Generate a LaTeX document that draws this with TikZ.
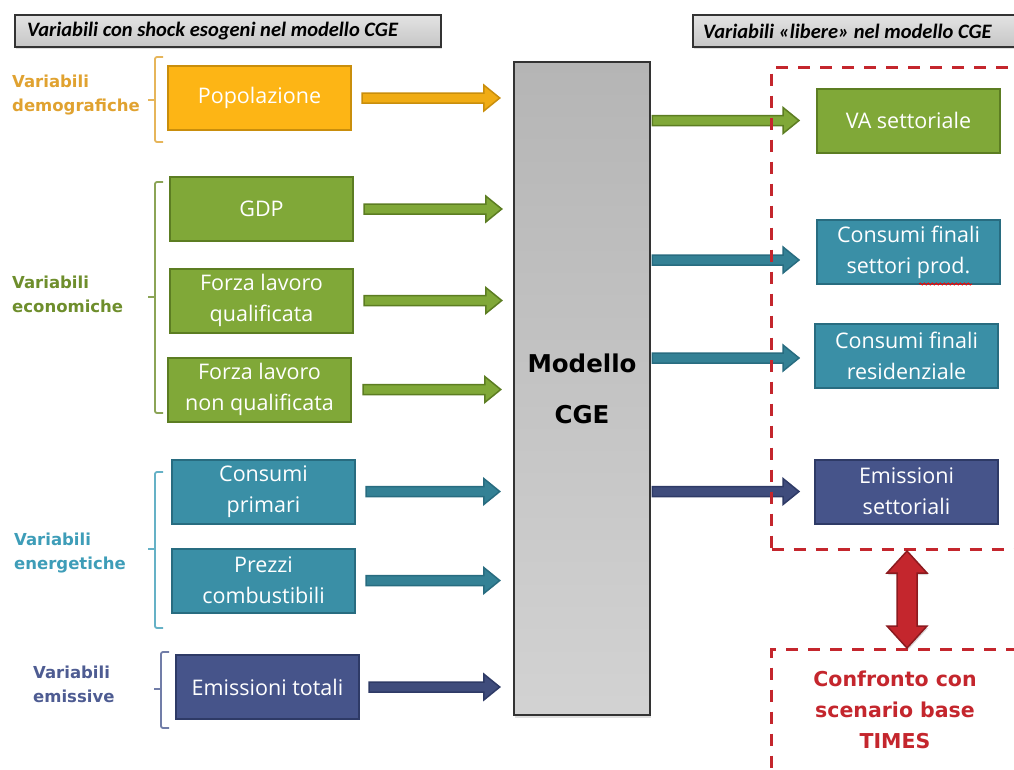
\documentclass[tikz,border=0pt]{standalone}
\usepackage{fontspec}
\setmainfont{Open Sans}
\newfontfamily\headfont{Carlito}
\newfontfamily\wideboldfont{DejaVu Sans}
\usetikzlibrary{calc,shadows,decorations.pathmorphing}

\definecolor{demofill}{HTML}{FDB515}
\definecolor{demoline}{HTML}{C98E0C}
\definecolor{demotext}{HTML}{E0A230}
\definecolor{econfill}{HTML}{80A838}
\definecolor{econline}{HTML}{5C7D22}
\definecolor{econtext}{HTML}{6E8E2C}
\definecolor{enerfill}{HTML}{3A8FA6}
\definecolor{enerline}{HTML}{286C80}
\definecolor{enertext}{HTML}{3E9DB8}
\definecolor{emisfill}{HTML}{46548A}
\definecolor{emisline}{HTML}{2E3A66}
\definecolor{emistext}{HTML}{4E5C92}
\definecolor{cmpred}{HTML}{C4262D}
\definecolor{cmpdark}{HTML}{8C1A1F}

\tikzset{
  varbox/.style={rectangle, minimum width=183pt, minimum height=64pt,
    line width=2pt, text=white, align=center, inner sep=0pt,
    font=\fontsize{21.5}{31}\selectfont},
  demobox/.style={varbox, fill=demofill, draw=demoline},
  econbox/.style={varbox, fill=econfill, draw=econline},
  enerbox/.style={varbox, fill=enerfill, draw=enerline},
  emisbox/.style={varbox, fill=emisfill, draw=emisline},
  grouplabel/.style={anchor=west, align=left, inner sep=0pt,
    font=\wideboldfont\bfseries\fontsize{16.5}{24}\selectfont},
  headbox/.style={rectangle, draw=black!80, line width=1.5pt,
    top color=gray!22, bottom color=gray!45, minimum height=32pt,
    inner sep=0pt, drop shadow={opacity=0.25, shadow xshift=1pt, shadow yshift=-2pt}},
  headtext/.style={anchor=west, inner sep=0pt,
    font=\headfont\bfseries\itshape\fontsize{20.5}{24}\selectfont},
  redframe/.style={rectangle, draw=cmpred, line width=3pt,
    dash pattern=on 12pt off 10pt},
}

% horizontal block arrow: fill, border, start, end
\newcommand{\fatarrow}[4]{%
  \draw[line width=1.5pt, draw=#2, fill=#1, line join=miter]
    let \p1=(#3), \p2=(#4) in
    (\x1,\y1+5) -- (\x2-16,\y1+5) -- (\x2-16,\y1+13) -- (\x2,\y1)
    -- (\x2-16,\y1-13) -- (\x2-16,\y1-5) -- (\x1,\y1-5) -- cycle;}

% vertical block arrow with two heads
\newcommand{\dblarrow}[2]{%
  \draw[line width=1.5pt, draw=cmpdark, fill=cmpred, line join=miter,
        drop shadow={opacity=0.3, shadow xshift=1pt, shadow yshift=-2pt}]
    let \p1=(#1), \p2=(#2) in
    (\x1,\y1) -- (\x1+20,\y1-22) -- (\x1+10,\y1-22) -- (\x1+10,\y2+22)
    -- (\x1+20,\y2+22) -- (\x1,\y2) -- (\x1-20,\y2+22) -- (\x1-10,\y2+22)
    -- (\x1-10,\y1-22) -- (\x1-20,\y1-22) -- cycle;}

% square bracket with a tick: colour, x, top, middle, bottom
\newcommand{\sidebrace}[5]{%
  \draw[#1, line width=1.8pt, rounded corners=2pt]
    (#2+8,#3) -- (#2,#3) -- (#2,#5) -- (#2+8,#5);
  \draw[#1, line width=1.8pt] (#2,#4) -- (#2-7,#4);}

\begin{document}
\begin{tikzpicture}[x=1pt, y=-1pt]
\useasboundingbox (0,0) rectangle (1014,769);
\clip (0,0) rectangle (1014,769);

% A. Headers
\node[headbox, minimum width=426pt, anchor=west] (hleft) at (14,31) {};
\node[headtext] (hlefttxt) at (27,31) {Variabili con shock esogeni nel modello CGE};
\node[headbox, minimum width=340pt, anchor=west] (hright) at (692,31) {};
\node[headtext] (hrighttxt) at (703,31) {Variabili «libere» nel modello CGE};

% B. Exogenous variables
\node[demobox] (pop)  at (259.5,98)   {Popolazione};
\node[econbox] (gdp)  at (261.5,209)  {GDP};
\node[econbox] (flq)  at (261.5,300.5) {Forza lavoro\\qualificata};
\node[econbox] (flnq) at (259.5,389.5) {Forza lavoro\\non qualificata};
\node[enerbox] (cp)   at (263.5,491.5) {Consumi\\primari};
\node[enerbox] (pc)   at (263.5,580.5) {Prezzi\\combustibili};
\node[emisbox] (et)   at (267.5,687)  {Emissioni totali};

% C. Group labels and brackets
\node[grouplabel, text=demotext] (ldemo) at (12,95)  {Variabili\\demografiche};
\node[grouplabel, text=econtext] (lecon) at (12,294) {Variabili\\economiche};
\node[grouplabel, text=enertext] (lener) at (14,553) {Variabili\\energetiche};
\node[grouplabel, text=emistext] (lemis) at (33,684) {Variabili\\emissive};
\sidebrace{demotext!80}{155}{57}{100}{142}
\sidebrace{econtext!80}{155}{182}{297}{413}
\sidebrace{enertext!80}{155}{472}{549}{628}
\sidebrace{emistext!80}{161}{652}{689}{728}

% D. CGE model
\node[rectangle, draw=black!80, line width=2.5pt, top color=gray!58, bottom color=gray!35,
      minimum width=136pt, minimum height=653pt, align=center,
      drop shadow={opacity=0.25, shadow xshift=1pt, shadow yshift=-3pt},
      font=\wideboldfont\bfseries\fontsize{24.5}{51}\selectfont] (cge) at (582,388.5) {Modello\\CGE};

% E. Free variables
\node[econbox] (va)  at (908.5,120.5) {VA settoriale};
\node[enerbox] (cfs) at (908.5,252)   {Consumi finali\\settori prod.};
\node[enerbox] (cfr) at (906.5,356)   {Consumi finali\\residenziale};
\node[emisbox] (es)  at (906.5,491.5) {Emissioni\\settoriali};
\draw[red, line width=0.8pt, decorate, decoration={snake, amplitude=1pt, segment length=4pt}]
  (919,284) -- (972,284);

% F. Arrows into the model
\fatarrow{demofill!95!black}{demoline}{$(pop.east)+(10,0)$}{$(cge.west |- pop)+(-13,0)$}
\fatarrow{econfill}{econline}{$(gdp.east)+(10,0)$}{$(cge.west |- gdp)+(-11,0)$}
\fatarrow{econfill}{econline}{$(flq.east)+(10,0)$}{$(cge.west |- flq)+(-11,0)$}
\fatarrow{econfill}{econline}{$(flnq.east)+(11,0)$}{$(cge.west |- flnq)+(-12,0)$}
\fatarrow{enerfill!90!black}{enerline}{$(cp.east)+(10,0)$}{$(cge.west |- cp)+(-13,0)$}
\fatarrow{enerfill!90!black}{enerline}{$(pc.east)+(10,0)$}{$(cge.west |- pc)+(-13,0)$}
\fatarrow{emisfill!90!black}{emisline}{$(et.east)+(9,0)$}{$(cge.west |- et)+(-13,0)$}

% G. Arrows out of the model
\fatarrow{econfill}{econline}{$(cge.east |- va)+(1,0)$}{$(va.west)+(-17,0)$}
\fatarrow{enerfill!90!black}{enerline}{$(cge.east |- cfs)+(1,8)$}{$(cfs.west)+(-17,8)$}
\fatarrow{enerfill!90!black}{enerline}{$(cge.east |- cfr)+(1,2)$}{$(cfr.west)+(-15,2)$}
\fatarrow{emisfill!90!black}{emisline}{$(cge.east |- es)+(1,0)$}{$(es.west)+(-15,0)$}

% H. Comparison with TIMES
\node[redframe, anchor=north west, minimum width=262pt, minimum height=482pt] (outframe) at (770,66) {};
\node[redframe, anchor=north west, minimum width=262pt, minimum height=140pt] (cmpframe) at (770,648) {};
\node[text=cmpred, align=center, font=\wideboldfont\bfseries\fontsize{20.5}{31}\selectfont] (cmp) at (895,710) {Confronto con\\scenario base\\TIMES};
\coordinate (dbl) at (907,600);
\dblarrow{outframe.south -| dbl}{cmpframe.north -| dbl}

\end{tikzpicture}
\end{document}
